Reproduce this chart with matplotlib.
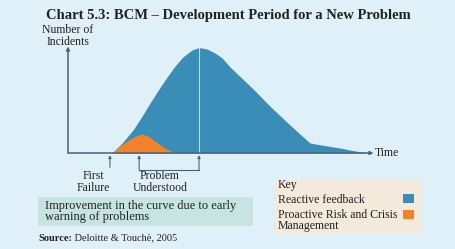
import matplotlib
matplotlib.use("Agg")
import matplotlib.pyplot as plt
from matplotlib.patches import Rectangle

# ---- data (time units 0..10, incidents 0..10) ----
t_reactive = [1.45, 1.78, 2.14, 2.43, 2.70, 2.98, 3.26, 3.52, 3.78, 4.08, 4.31,
              4.57, 4.84, 5.07, 5.33, 6.09, 6.64, 7.30, 7.96, 8.45, 8.95, 9.40, 9.84]
h_reactive = [0.0, 0.94, 2.17, 3.45, 4.72, 5.98, 7.17, 8.20, 9.06, 9.72, 9.95,
              9.81, 9.43, 8.96, 8.11, 6.04, 4.43, 2.64, 0.94, 0.70, 0.47, 0.22, 0.0]
t_proactive = [1.45, 1.71, 2.04, 2.30, 2.43, 2.63, 2.86, 3.19, 3.52]
h_proactive = [0.0, 0.66, 1.32, 1.70, 1.79, 1.60, 1.13, 0.47, 0.0]
t_first_failure = 1.38
t_problem_start = 2.34
t_problem_understood = 4.31

title = "Chart 5.3: BCM \u2013 Development Period for a New Problem"
key_labels = ["Reactive feedback", "Proactive Risk and Crisis\nManagement"]

# ---- style ----
BG = "#dff0f9"
BLUE = "#3a8db6"
ORANGE = "#f38228"
AXIS = "#46647c"
GREEN_BOX = "#c6e4e0"
KEY_BOX = "#f3eadb"
TXT = "#222222"
SERIF = ["Liberation Serif", "DejaVu Serif"]

fig = plt.figure(figsize=(4.56, 2.49), dpi=100)
fig.patch.set_facecolor(BG)

ax0 = fig.add_axes([0, 0, 1, 1])
ax0.set_xlim(0, 456)
ax0.set_ylim(249, 0)
ax0.axis("off")

ax = fig.add_axes([68 / 456, 1 - 153 / 249, 304 / 456, 106 / 249])
ax.set_xlim(0, 10)
ax.set_ylim(0, 10)
ax.axis("off")
ax.patch.set_alpha(0)

ax.fill_between(t_reactive, h_reactive, 0, color=BLUE, lw=0, zorder=2)
ax.fill_between(t_proactive, h_proactive, 0, color=ORANGE, lw=0, zorder=3)
ax.plot([t_problem_understood, t_problem_understood], [0, max(h_reactive)],
        color="#b8dcec", lw=0.8, zorder=4)

# axes arrows
arr = dict(arrowstyle="-|>", color=AXIS, lw=1.1, mutation_scale=5, shrinkA=0, shrinkB=0)
ax.annotate("", xy=(0, 10.05), xytext=(0, 0), arrowprops=arr, annotation_clip=False, zorder=5)
ax.annotate("", xy=(10.05, 0), xytext=(0, 0), arrowprops=arr, annotation_clip=False, zorder=5)

# markers below axis
small = dict(arrowstyle="-|>", color=AXIS, lw=0.8, mutation_scale=4, shrinkA=0, shrinkB=0)
ax.annotate("", xy=(t_first_failure, -0.2), xytext=(t_first_failure, -1.35),
            arrowprops=small, annotation_clip=False)
ax.annotate("", xy=(t_problem_start, -0.2), xytext=(t_problem_start, -1.6),
            arrowprops=small, annotation_clip=False)
ax.annotate("", xy=(t_problem_understood, -0.2), xytext=(t_problem_understood, -1.6),
            arrowprops=small, annotation_clip=False)
ax.plot([t_problem_start, t_problem_understood], [-1.6, -1.6], color=AXIS, lw=0.8,
        clip_on=False)

# texts
ax0.text(228, 15, title, ha="center", va="center", fontsize=10.5, fontweight="bold",
         family=SERIF, color=TXT)
ax0.text(68, 36, "Number of\nIncidents", ha="center", va="center", fontsize=8.5,
         family=SERIF, color=TXT, linespacing=0.95)
ax0.text(163, 116, "Losses", ha="center", va="center", fontsize=8.5, family=SERIF, color=TXT)
ax0.text(375, 153, "Time", ha="left", va="center", fontsize=8.5, family=SERIF, color=TXT)
ax0.text(93, 182, "First\nFailure", ha="center", va="center", fontsize=8.5,
         family=SERIF, color=TXT, linespacing=0.95)
ax0.text(160, 182, "Problem\nUnderstood", ha="center", va="center", fontsize=8.5,
         family=SERIF, color=TXT, linespacing=0.95)

ax0.add_patch(Rectangle((38, 197), 215, 29, facecolor=GREEN_BOX, edgecolor="none"))
ax0.text(45, 211.5, "Improvement in the curve due to early\nwarning of problems",
         ha="left", va="center", fontsize=9, family=SERIF, color=TXT, linespacing=0.9)

ax0.add_patch(Rectangle((275, 179), 147, 54, facecolor=KEY_BOX, edgecolor="none"))
ax0.text(278, 185, "Key", ha="left", va="center", fontsize=8.5, family=SERIF, color=TXT)
ax0.text(278, 200, key_labels[0], ha="left", va="center", fontsize=8.5, family=SERIF, color=TXT)
ax0.text(278, 220.5, key_labels[1], ha="left", va="center", fontsize=8.5, family=SERIF,
         color=TXT, linespacing=0.85)
ax0.add_patch(Rectangle((403, 194), 11, 8.5, facecolor=BLUE, edgecolor="none"))
ax0.add_patch(Rectangle((403, 210), 11, 9, facecolor=ORANGE, edgecolor="none"))

t1 = ax0.text(38, 238, "Source:", ha="left", va="center", fontsize=7.5, fontweight="bold",
              family=SERIF, color=TXT)
ax0.annotate(" Deloitte & Touch\u00e8, 2005", xy=(1, 0.5), xycoords=t1, ha="left",
             va="center", fontsize=7.5, family=SERIF, color=TXT)

fig.savefig("out.png", dpi=100, facecolor=BG)
